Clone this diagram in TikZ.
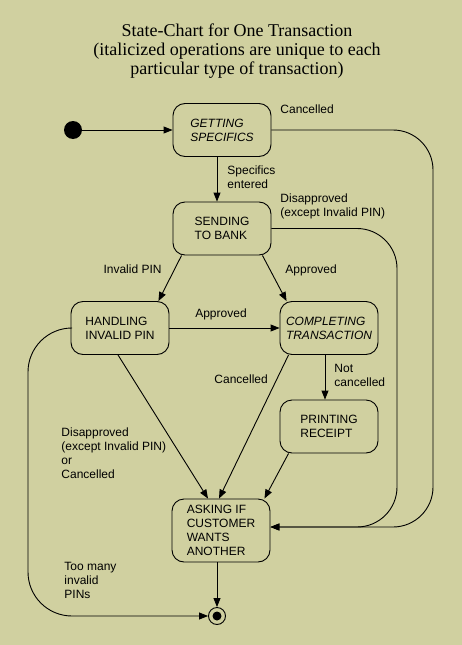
\documentclass[tikz,border=0pt]{standalone}
\usepackage{fontspec}
\setmainfont{Liberation Serif}
\setsansfont{Liberation Sans}
\usetikzlibrary{arrows.meta}

\definecolor{chartbg}{RGB}{208,208,160}

\begin{document}
\begin{tikzpicture}[x=1pt, y=-1pt, line width=0.9pt,
	state/.style={draw, rounded corners=12pt, minimum width=98pt, minimum height=53pt, align=left, font=\sffamily\fontsize{12}{14}\selectfont},
	unique/.style={state, font=\sffamily\itshape\fontsize{12}{14}\selectfont},
	trans/.style={-{Triangle[length=9pt,width=7pt]}},
	lbl/.style={inner sep=0pt, align=left, font=\sffamily\fontsize{12}{14}\selectfont}]
	\useasboundingbox[fill=chartbg] (0,0) rectangle (462,645);

	% title
	\node[inner sep=0pt, align=center, anchor=north, font=\fontsize{18}{19}\selectfont] (title) at (237,23)
		{State-Chart for One Transaction\\(italicized operations are unique to each\\particular type of transaction)};

	% states
	\node[circle, fill, minimum size=18pt, inner sep=0pt] (init) at (73,130) {};
	\node[unique] (getting) at (222,130) {GETTING\\SPECIFICS};
	\node[state] (sending) at (222,228.5) {SENDING\\TO BANK};
	\node[state] (handling) at (120,328) {HANDLING\\INVALID PIN};
	\node[unique] (completing) at (329,328) {COMPLETING\\TRANSACTION};
	\node[state] (printing) at (329,426.5) {PRINTING\\RECEIPT};
	\node[state, minimum height=63pt] (asking) at (221,530.5) {ASKING IF\\CUSTOMER\\WANTS\\ANOTHER};
	\node[circle, draw, minimum size=17pt, inner sep=0pt] (final) at (217,616) {};
	\fill (final) circle (4.5pt);

	% bends of the long transitions
	\coordinate (outer) at (433,527);
	\coordinate (inner) at (397,527);
	\coordinate (left) at (28,616);

	% transitions
	\draw[trans] (init) -- (getting.west);
	\draw[trans] ([xshift=-5pt]getting.south) -- ([xshift=-5pt]sending.north);
	\draw[trans, rounded corners=40pt] (getting.east) -| (outer) -- ([yshift=3.5pt]asking.east);
	\draw[trans, rounded corners=40pt] (sending.east) -| (inner) -- ([yshift=3.5pt]asking.east);
	\draw[trans] ([xshift=9pt]sending.south west) -- ([xshift=-11pt]handling.north east);
	\draw[trans] ([xshift=-9pt]sending.south east) -- ([xshift=7pt]completing.north west);
	\draw[trans] (handling.east) -- (completing.west);
	\draw[trans] ([xshift=-2pt]handling.south) -- ([xshift=-13pt]asking.north);
	\draw[trans] ([xshift=9pt]completing.south west) -- ([xshift=-2pt]asking.north);
	\draw[trans] ([xshift=-4pt]completing.south) -- ([xshift=-4pt]printing.north);
	\draw[trans] ([xshift=9pt]printing.south west) -- ([xshift=-6pt]asking.north east);
	\draw[trans] (final |- asking.south) -- (final.north);
	\draw[trans, rounded corners=44pt] (handling.west) -| (left) -- (final.west);

	% labels
	\node[lbl, anchor=base west] (lcancel1) at (280,113) {Cancelled};
	\node[lbl, anchor=north west] (lentered) at (227,165) {Specifics\\entered};
	\node[lbl, anchor=north west] (ldisapp1) at (280,193) {Disapproved\\ (except Invalid PIN)};
	\node[lbl, anchor=base east] (linvalid) at (162,273) {Invalid PIN};
	\node[lbl, anchor=base west] (lapprove1) at (285,273) {Approved};
	\node[lbl, anchor=base] (lapprove2) at (221,317) {Approved};
	\node[lbl, anchor=base west] (lcancel2) at (214,383) {Cancelled};
	\node[lbl, anchor=north west] (lnot) at (334,364) {Not\\cancelled};
	\node[lbl, anchor=north west] (ldisapp2) at (61,427) {Disapproved\\ (except Invalid PIN)\\or\\Cancelled};
	\node[lbl, anchor=north west] (ltoomany) at (64,562) {Too many\\invalid\\PINs};
\end{tikzpicture}
\end{document}
